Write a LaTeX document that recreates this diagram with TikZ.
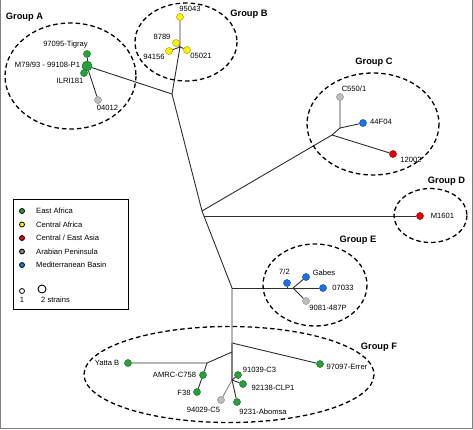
\documentclass[tikz,border=0pt]{standalone}
\usepackage{fontspec}
\setmainfont{Liberation Sans}
\usetikzlibrary{backgrounds}
\definecolor{cea}{RGB}{40,160,60}
\definecolor{ceaD}{RGB}{25,110,40}
\definecolor{cca}{RGB}{255,242,0}
\definecolor{ccaD}{RGB}{170,160,0}
\definecolor{cas}{RGB}{235,0,10}
\definecolor{casD}{RGB}{150,0,0}
\definecolor{cap}{RGB}{190,190,190}
\definecolor{capD}{RGB}{140,140,140}
\definecolor{cmb}{RGB}{25,115,235}
\definecolor{cmbD}{RGB}{10,70,160}
\definecolor{edgec}{RGB}{45,45,45}
\begin{document}
\begin{tikzpicture}[x=1pt,y=-1pt,
  pt/.style={circle,inner sep=0pt,minimum size=7pt,line width=0.5pt},
  ea/.style={pt,fill=cea,draw=ceaD},
  ca/.style={pt,fill=cca,draw=ccaD},
  as/.style={pt,fill=cas,draw=casD},
  ap/.style={pt,fill=cap,draw=capD},
  mb/.style={pt,fill=cmb,draw=cmbD},
  lbl/.style={font=\fontsize{7.6}{8}\selectfont,inner sep=0pt},
  grp/.style={font=\bfseries\fontsize{9.3}{10}\selectfont,inner sep=0pt},
  grpell/.style={draw=black,line width=1.3pt,dash pattern=on 4.5pt off 3pt},
  br/.style={draw=edgec,line width=0.9pt},
  leg/.style={font=\fontsize{7.6}{8}\selectfont,inner sep=0pt,anchor=west},
  legdot/.style={circle,inner sep=0pt,minimum size=5pt,draw=black,line width=0.8pt}
]
\useasboundingbox (0,0) rectangle (473,429);
\draw[gray,line width=1.2pt] (0.6,0) -- (0.6,428.4) -- (472.4,428.4) -- (472.4,0);

% ---- tree junctions
\coordinate (jAB) at (172,94);
\coordinate (jB) at (180,47);
\coordinate (jCen) at (202,211);
\coordinate (jC) at (332,135);
\coordinate (jC2) at (340,128);
\coordinate (jD) at (204,216);
\coordinate (jE) at (232,288);
\coordinate (jE2) at (293,288);
\coordinate (jE3) at (287,288);
\coordinate (jF0) at (232,343);
\coordinate (jF1) at (232,352);
\coordinate (jF2) at (207,363);
\coordinate (jF3) at (232,380);

% ---- strains
\node[ea,minimum size=10pt] (nM79) at (87,66) {};
\node[ea] (nTig) at (87,54) {};
\node[ea] (nILRI) at (84,73) {};
\node[ap] (n04012) at (98,100) {};
\node[ca] (n95043) at (180,17) {};
\node[ca] (n8789) at (176,43) {};
\node[ca] (n94156) at (169,51) {};
\node[ca] (n05021) at (187,50) {};
\node[ap] (nC550) at (340,97) {};
\node[mb] (n44F04) at (363,123) {};
\node[as] (n12002) at (393,154) {};
\node[as] (nM1601) at (420,216) {};
\node[mb] (n72) at (287,283) {};
\node[mb] (nGabes) at (306,277) {};
\node[mb] (n07033) at (323,288) {};
\node[ap] (n9081) at (306,301) {};
\node[ea] (nYatta) at (128,363) {};
\node[ea] (nAMRC) at (203,375) {};
\node[ea] (nF38) at (197,392) {};
\node[ea] (n91039) at (238,375) {};
\node[ea] (n92138) at (243,384) {};
\node[ea] (n9231) at (237,402) {};
\node[ap] (n94029) at (221,400) {};
\node[ea] (n97097) at (320,364) {};

% ---- branches
\begin{scope}[on background layer]
\draw[br] (nM79) -- (jAB) -- (jCen) -- (jE) -- (jF0);
\draw[br] (jAB) -- (jB) -- (n95043);
\draw[br] (jB) -- (n8789);
\draw[br] (jB) -- (n94156);
\draw[br] (jB) -- (n05021);
\draw[br] (nM79) -- (nTig);
\draw[br] (nM79) -- (n04012);
\draw[br] (jCen) -- (jC) -- (n12002);
\draw[br] (jC) -- (jC2) -- (nC550);
\draw[br] (jC2) -- (n44F04);
\draw[br] (jD) -- (nM1601);
\draw[br] (jE) -- (n07033);
\draw[br] (jE3) -- (n72);
\draw[br] (jE2) -- (nGabes);
\draw[br] (jE2) -- (n9081);
\draw[br] (jF0) -- (n97097);
\draw[draw=gray,line width=1.3pt] (jF0) -- (jF3);
\draw[br] (jF1) -- (jF2) -- (nYatta);
\draw[br] (jF2) -- (nAMRC) -- (nF38);
\draw[br] (jF3) -- (n91039);
\draw[br] (jF3) -- (n92138);
\draw[br] (jF3) -- (n9231);
\draw[draw=gray,line width=0.9pt] (jF3) -- (n94029);
\end{scope}

% ---- group ellipses
\draw[grpell] (70.5,76) ellipse [x radius=65.5, y radius=53];
\draw[grpell] (186,42) ellipse [x radius=51, y radius=39];
\draw[grpell] (373,124) ellipse [x radius=66, y radius=51];
\draw[grpell] (430.5,215.5) ellipse [x radius=36.5, y radius=27];
\draw[grpell] (315,285) ellipse [x radius=52, y radius=41];
\draw[grpell] (229,374.5) ellipse [x radius=145, y radius=48];

% ---- group labels
\node[grp] (gA) at (24.5,17) {Group A};
\node[grp] (gB) at (249,14) {Group B};
\node[grp] (gC) at (374,62) {Group C};
\node[grp] (gD) at (446.5,181) {Group D};
\node[grp] (gE) at (358,240) {Group E};
\node[grp] (gF) at (379,347) {Group F};

% ---- strain labels
\node[lbl] (tTig) at (65.5,45) {97095-Tigray};
\node[lbl] (tM79) at (47.5,65) {M79/93 - 99108-P1};
\node[lbl] (tILRI) at (70,81) {ILRI181};
\node[lbl] (t04012) at (107.5,108) {04012};
\node[lbl] (t95043) at (190,9) {95043};
\node[lbl] (t8789) at (162,37) {8789};
\node[lbl] (t94156) at (154,57) {94156};
\node[lbl] (t05021) at (201,56) {05021};
\node[lbl] (tC550) at (354,89) {C550/1};
\node[lbl] (t44F04) at (381,122) {44F04};
\node[lbl] (t12002) at (411,160) {12002};
\node[lbl] (tM1601) at (442.5,216) {M1601};
\node[lbl] (t72) at (284.5,272) {7/2};
\node[lbl] (tGabes) at (324,273) {Gabes};
\node[lbl] (t07033) at (343,288) {07033};
\node[lbl] (t9081) at (328,308) {9081-487P};
\node[lbl] (tYatta) at (107,363) {Yatta B};
\node[lbl] (tAMRC) at (174.5,375) {AMRC-C758};
\node[lbl] (tF38) at (184,393) {F38};
\node[lbl] (t91039) at (259.5,370) {91039-C3};
\node[lbl] (t92138) at (273,388) {92138-CLP1};
\node[lbl] (t94029) at (203.5,410) {94029-C5};
\node[lbl] (t9231) at (263,412) {9231-Abomsa};
\node[lbl] (t97097) at (347,367) {97097-Errer};

% ---- legend
\node[draw=black,line width=0.9pt,minimum width=115pt,minimum height=110pt,inner sep=0pt] (legbox) at (70.5,254) {};
\node[legdot,fill=cea] (l1) at (22,211) {};
\node[leg] (lt1) at (36,211) {East Africa};
\node[legdot,fill=cca] (l2) at (22,224.5) {};
\node[leg] (lt2) at (36,224.5) {Central Africa};
\node[legdot,fill=cas] (l3) at (22,238) {};
\node[leg] (lt3) at (36,238) {Central / East Asia};
\node[legdot,fill=gray] (l4) at (22,251.5) {};
\node[leg] (lt4) at (36,251.5) {Arabian Peninsula};
\node[legdot,fill=cmb] (l5) at (22,265) {};
\node[leg] (lt5) at (36,265) {Mediterranean Basin};
\node[legdot,fill=white] (ls1) at (22,291) {};
\node[circle,inner sep=0pt,minimum size=8pt,draw=black,line width=0.9pt,fill=white] (ls2) at (42,289) {};
\node[leg,anchor=center] (lst1) at (22,300) {1};
\node[leg] (lst2) at (41,300) {2 strains};
\end{tikzpicture}
\end{document}
